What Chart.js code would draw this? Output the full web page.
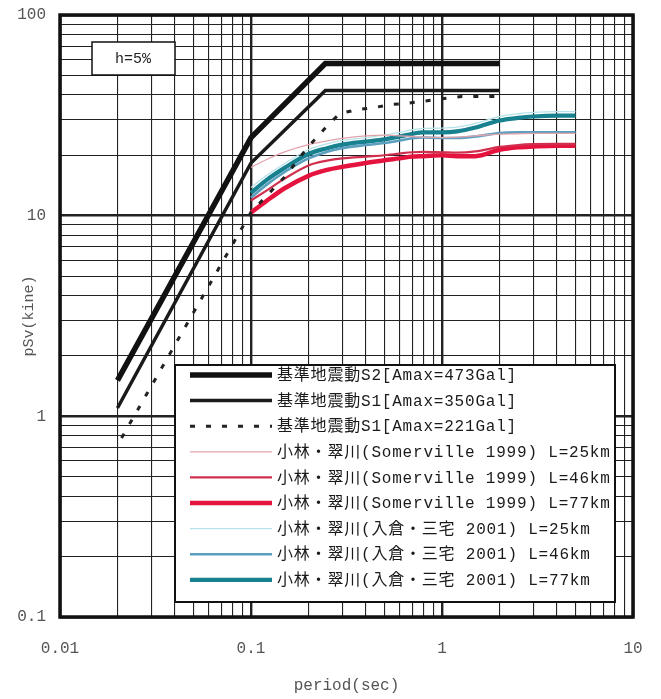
<!DOCTYPE html>
<html>
<head>
<meta charset="utf-8">
<script src="https://cdn.jsdelivr.net/npm/chart.js@4.4.0/dist/chart.umd.min.js"></script>
<style>
  html, body { margin: 0; padding: 0; background: #fff; }
  #wrap { width: 661px; height: 699px; }
</style>
</head>
<body>
<div id="wrap"><canvas id="spectrum"></canvas></div>
<script>
// 目盛 (log-log)
const xTicks = [0.01, 0.02, 0.03, 0.04, 0.05, 0.06, 0.07, 0.08, 0.09,
                0.1, 0.2, 0.3, 0.4, 0.5, 0.6, 0.7, 0.8, 0.9,
                1, 2, 3, 4, 5, 6, 7, 8, 9, 10];
const xMajor = [0.01, 0.1, 1, 10];
const xLabels = ['0.01', '0.1', '1', '10'];
const yTicks = [0.1, 0.2, 0.3, 0.4, 0.5, 0.6, 0.7, 0.8, 0.9,
                1, 2, 3, 4, 5, 6, 7, 8, 9,
                10, 20, 30, 40, 50, 60, 70, 80, 90, 100];
const yMajor = [0.1, 1, 10, 100];
const yLabels = ['0.1', '1', '10', '100'];

// 基準地震動
const s2Period = [0.02, 0.1, 0.245, 2.0];
const s2Value  = [1.51, 24.5, 57.3, 57.3];
const s1Period = [0.02, 0.1, 0.245, 2.0];
const s1Value  = [1.1, 18.3, 42.0, 42.0];
const s1bPeriod = [0.021, 0.1, 0.15, 0.196, 0.25, 0.292, 0.363, 0.446, 0.535, 0.64, 0.785, 1.0, 1.27, 2.0];
const s1bValue  = [0.78, 10.4, 15.6, 21.6, 28.0, 32.3, 33.8, 34.6, 35.8, 36.2, 37.1, 38.3, 39.3, 39.3];

// 小林・翠川
const periods = [0.1, 0.12, 0.15, 0.2, 0.25, 0.3, 0.4, 0.5, 0.6, 0.7, 0.8, 1.0, 1.2, 1.5, 2.0, 2.5, 3, 4, 5];
const somL25 = [17.4, 19.0, 20.8, 22.6, 23.6, 24.3, 25.0, 25.2, 25.0, 24.8, 24.6, 24.5, 24.6, 25.0, 25.5, 25.6, 25.7, 25.7, 25.7];
const somL46 = [11.9, 13.3, 15.3, 17.8, 18.8, 19.3, 19.7, 20.0, 20.4, 20.7, 20.8, 20.7, 20.6, 20.9, 22.0, 22.5, 22.7, 22.8, 22.8];
const somL77 = [10.35, 11.8, 13.7, 15.8, 16.9, 17.5, 18.3, 18.9, 19.3, 19.7, 19.8, 20.0, 19.8, 19.8, 21.3, 21.9, 22.1, 22.3, 22.3];
const irkL25 = [13.8, 15.8, 18.2, 21.3, 22.8, 23.7, 24.5, 25.2, 26.0, 26.8, 27.2, 27.3, 27.6, 28.8, 31.2, 32.2, 32.7, 33.0, 33.0];
const irkL46 = [12.3, 14.2, 16.5, 19.3, 20.8, 21.7, 22.5, 23.0, 23.7, 24.3, 24.5, 24.4, 24.4, 24.8, 25.8, 26.0, 26.0, 26.0, 26.0];
const irkL77 = [13.0, 15.0, 17.3, 20.3, 21.7, 22.6, 23.4, 24.0, 24.8, 25.6, 26.0, 26.0, 26.3, 27.5, 29.8, 30.7, 31.2, 31.5, 31.5];

const seriesLabels = [
    '基準地震動S2[Amax=473Gal]',
    '基準地震動S1[Amax=350Gal]',
    '基準地震動S1[Amax=221Gal]',
    '小林・翠川(Somerville 1999) L=25km',
    '小林・翠川(Somerville 1999) L=46km',
    '小林・翠川(Somerville 1999) L=77km',
    '小林・翠川(入倉・三宅 2001) L=25km',
    '小林・翠川(入倉・三宅 2001) L=46km',
    '小林・翠川(入倉・三宅 2001) L=77km'
];

function pts(xs, ys) {
    return xs.map((x, i) => ({ x: x, y: ys[i] }));
}

const monoFont = '"Liberation Mono", "DejaVu Sans Mono", monospace';
const legendFont = '16px "Liberation Mono", "Noto Sans CJK JP", sans-serif';

// 枠線・h=5%・凡例を描く
const framePlugin = {
    id: 'framePlugin',
    afterDatasetsDraw(chart) {
        const ctx = chart.ctx;
        const a = chart.chartArea;
        ctx.save();

        // 外枠
        ctx.strokeStyle = '#111';
        ctx.lineWidth = 3.5;
        ctx.strokeRect(a.left, a.top, a.right - a.left, a.bottom - a.top);

        // h=5%
        ctx.fillStyle = '#fff';
        ctx.fillRect(92, 42, 83, 33);
        ctx.lineWidth = 1.5;
        ctx.strokeRect(92, 42, 83, 33);
        ctx.fillStyle = '#222';
        ctx.font = '15px ' + monoFont;
        ctx.textAlign = 'center';
        ctx.textBaseline = 'middle';
        ctx.fillText('h=5%', 133, 59);

        // 凡例
        const bx = 175, by = 365, bw = 440, bh = 237;
        ctx.fillStyle = '#fff';
        ctx.fillRect(bx, by, bw, bh);
        ctx.strokeStyle = '#111';
        ctx.lineWidth = 2;
        ctx.strokeRect(bx, by, bw, bh);

        ctx.textAlign = 'left';
        ctx.font = legendFont;
        if ('letterSpacing' in ctx) ctx.letterSpacing = '0.8px';
        chart.data.datasets.forEach((ds, i) => {
            const y = by + 10 + i * 25.6;
            ctx.beginPath();
            ctx.strokeStyle = ds.borderColor;
            ctx.lineWidth = ds.borderWidth;
            ctx.setLineDash(ds.borderDash || []);
            ctx.moveTo(190, y);
            ctx.lineTo(272, y);
            ctx.stroke();
            ctx.setLineDash([]);
            ctx.fillStyle = '#1a1a1a';
            ctx.fillText(ds.label, 277, y + 1);
        });
        ctx.restore();
    }
};

const gridWidth = (major) => (c) => (c.tick && major.includes(c.tick.value)) ? 2.4 : 1.1;
const smooth = { cubicInterpolationMode: 'monotone' };

const ctx = document.getElementById('spectrum').getContext('2d');
new Chart(ctx, {
    type: 'line',
    data: {
        datasets: [
            { label: seriesLabels[0], data: pts(s2Period, s2Value), borderColor: '#111', borderWidth: 5.5 },
            { label: seriesLabels[1], data: pts(s1Period, s1Value), borderColor: '#1a1a1a', borderWidth: 3.5 },
            { label: seriesLabels[2], data: pts(s1bPeriod, s1bValue), borderColor: '#222', borderWidth: 3, borderDash: [5, 11] },
            { label: seriesLabels[3], data: pts(periods, somL25), borderColor: '#e3a3ad', borderWidth: 1.3, ...smooth },
            { label: seriesLabels[4], data: pts(periods, somL46), borderColor: '#d0304e', borderWidth: 2.2, ...smooth },
            { label: seriesLabels[5], data: pts(periods, somL77), borderColor: '#e4143e', borderWidth: 4.5, ...smooth },
            { label: seriesLabels[6], data: pts(periods, irkL25), borderColor: '#b6e2ea', borderWidth: 1.3, ...smooth },
            { label: seriesLabels[7], data: pts(periods, irkL46), borderColor: '#5b9fbf', borderWidth: 2.6, ...smooth },
            { label: seriesLabels[8], data: pts(periods, irkL77), borderColor: '#17818f', borderWidth: 4.2, ...smooth }
        ]
    },
    options: {
        responsive: true,
        maintainAspectRatio: false,
        animation: false,
        layout: { padding: { top: 15, right: 28, left: 0, bottom: 0 } },
        elements: { point: { radius: 0 }, line: { fill: false, tension: 0 } },
        plugins: {
            legend: { display: false },
            tooltip: { enabled: false }
        },
        scales: {
            x: {
                type: 'logarithmic',
                min: 0.01,
                max: 10,
                afterBuildTicks: s => { s.ticks = xTicks.map(v => ({ value: v })); },
                afterFit: s => { s.height = 82; s.paddingLeft = 0; s.paddingRight = 0; },
                grid: { color: '#222', lineWidth: gridWidth(xMajor), drawTicks: false },
                border: { display: false },
                ticks: {
                    autoSkip: false,
                    maxRotation: 0,
                    padding: 22,
                    color: '#555',
                    font: { family: monoFont, size: 16 },
                    callback: v => { const k = xMajor.indexOf(v); return k >= 0 ? xLabels[k] : ''; }
                },
                title: {
                    display: true,
                    text: 'period(sec)',
                    color: '#555',
                    font: { family: monoFont, size: 16 },
                    padding: { top: 0, bottom: 4 }
                }
            },
            y: {
                type: 'logarithmic',
                min: 0.1,
                max: 100,
                afterBuildTicks: s => { s.ticks = yTicks.map(v => ({ value: v })); },
                afterFit: s => { s.width = 60; s.paddingTop = 0; s.paddingBottom = 0; },
                grid: { color: '#222', lineWidth: gridWidth(yMajor), drawTicks: false },
                border: { display: false },
                ticks: {
                    autoSkip: false,
                    padding: 14,
                    color: '#555',
                    font: { family: monoFont, size: 16 },
                    callback: v => { const k = yMajor.indexOf(v); return k >= 0 ? yLabels[k] : ''; }
                },
                title: {
                    display: true,
                    text: 'pSv(kine)',
                    color: '#555',
                    font: { family: monoFont, size: 15 },
                    padding: { top: 20, bottom: 0 }
                }
            }
        }
    },
    plugins: [framePlugin]
});
</script>
</body>
</html>
